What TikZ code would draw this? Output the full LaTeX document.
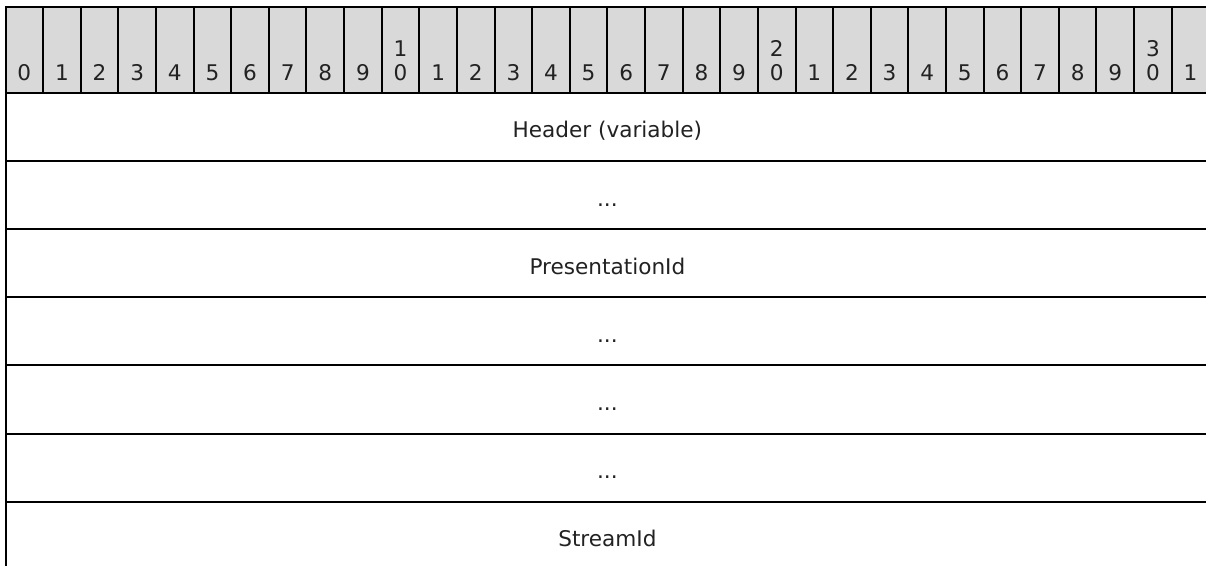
\documentclass[tikz,border=0pt]{standalone}
\usepackage{fontspec}
\setmainfont{DejaVu Sans}
\definecolor{bitgray}{HTML}{D9D9D9}
\definecolor{textgray}{HTML}{222222}
\newcommand{\gapdots}{...}
\tikzset{
  bitnum/.style={anchor=base,inner sep=0pt,text=textgray},
  fieldname/.style={anchor=base,inner sep=0pt,text=textgray}
}
\begin{document}
\begin{tikzpicture}[x=0.75pt,y=-0.75pt,line width=1.5pt,font=\fontsize{16.2}{19}\selectfont]
    \useasboundingbox (0,0) rectangle (1206,566);

    % Bit ruler
    \foreach \i in {0,...,31} {
      \pgfmathsetmacro{\xl}{5.5+37.62*\i}
      \pgfmathsetmacro{\xc}{\xl+18.81}
      \pgfmathtruncatemacro{\tens}{\i/10}
      \pgfmathtruncatemacro{\units}{\i-10*\tens}
      \draw[fill=bitgray] (\xl,7) rectangle ++(37.62,86);
      \node[bitnum] (bit\i) at (\xc,81) {\units};
      \ifnum\i>9 \ifnum\units=0
        \node[bitnum] (tens\i) at (\xc,57) {\tens};
      \fi\fi
    }

    % Fields
    \foreach \k/\name/\txt in {0/hdr/Header (variable),1/gap1/\gapdots,2/presid/PresentationId,
        3/gap2/\gapdots,4/gap3/\gapdots,5/gap4/\gapdots,6/streamid/StreamId} {
      \pgfmathsetmacro{\yt}{93+68.1*\k}
      \draw (5.5,\yt) rectangle (1209.3,\yt+68.1);
      \node[fieldname] (\name) at (607.4,\yt+45) {\txt};
    }
  \end{tikzpicture}
\end{document}
